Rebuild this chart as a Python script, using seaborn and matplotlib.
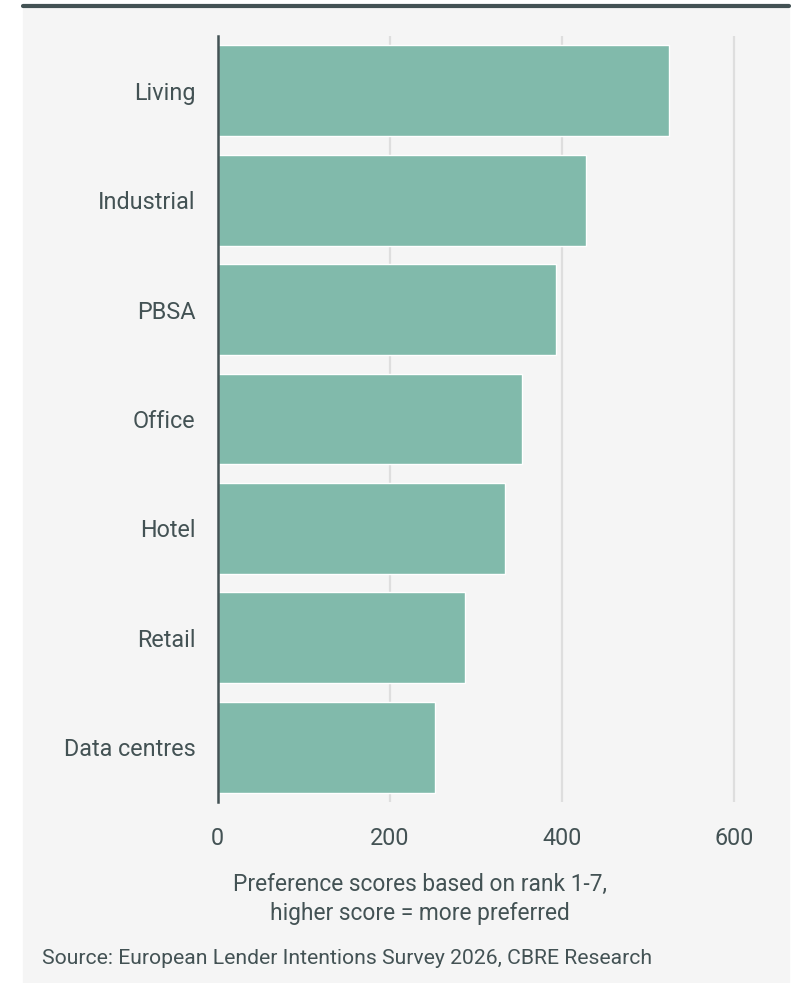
import matplotlib
matplotlib.use("Agg")
import matplotlib.pyplot as plt
from matplotlib.patches import Rectangle
from matplotlib.lines import Line2D
import pandas as pd
import seaborn as sns

# ── Data ──────────────────────────────────────────────────────────────────────
sectors = ["Living", "Industrial", "PBSA", "Office", "Hotel", "Retail", "Data centres"]
scores = [524, 428, 393, 353, 334, 287, 252]
x_ticks = [0, 200, 400, 600]

BAR = "#81baab"
TEXT = "#435254"
GRID = "#dedede"
PANEL = "#f5f5f5"

sns.set_theme(style="white")
plt.rcParams["font.family"] = ["Roboto", "DejaVu Sans"]

W, H = 792, 983
fig = plt.figure(figsize=(W / 100, H / 100), dpi=100)
fig.patch.set_facecolor("white")

# grey panel + dark rule at the top
fig.add_artist(Rectangle((23 / W, 0), (789 - 23) / W, 1 - 4 / H,
                         transform=fig.transFigure, color=PANEL, zorder=0))
fig.add_artist(Line2D([23 / W, 789 / W], [1 - 6 / H, 1 - 6 / H],
                      transform=fig.transFigure, color=TEXT, lw=3.0))

# axes placement (pixel coords from the reference)
x0, x1 = 217.8, 751.6
y_top, y_bot = 36, 802
ax = fig.add_axes([x0 / W, 1 - y_bot / H, (x1 - x0) / W, (y_bot - y_top) / H])
ax.set_facecolor("none")

df = pd.DataFrame({"sector": sectors, "score": scores})
sns.barplot(data=df, x="score", y="sector", orient="h", color=BAR,
            width=0.83, saturation=1, ax=ax, zorder=3)

ax.set_xlim(0, 620)
ax.set_ylim(len(sectors) - 0.5, -0.5)
ax.set_xticks(x_ticks)
for v in x_ticks[1:]:
    ax.axvline(v, color=GRID, lw=1.6, zorder=1)

for s in ["top", "right", "bottom"]:
    ax.spines[s].set_visible(False)
ax.spines["left"].set_color(TEXT)
ax.spines["left"].set_linewidth(1.8)
ax.spines["left"].set_zorder(4)

ax.tick_params(axis="both", length=0, colors=TEXT, labelsize=16.8)
ax.tick_params(axis="y", pad=16)
ax.tick_params(axis="x", pad=18)
ax.set_xlabel("")
ax.set_ylabel("")

fig.text(420 / W, 1 - 899 / H,
         "Preference scores based on rank 1-7,\nhigher score = more preferred",
         ha="center", va="center", fontsize=16.4, color=TEXT, linespacing=1.38)
fig.text(42 / W, 1 - 959 / H,
         "Source: European Lender Intentions Survey 2026, CBRE Research",
         ha="left", va="center", fontsize=15.2, color=TEXT)

fig.savefig("out.png", dpi=100, facecolor=fig.get_facecolor())
